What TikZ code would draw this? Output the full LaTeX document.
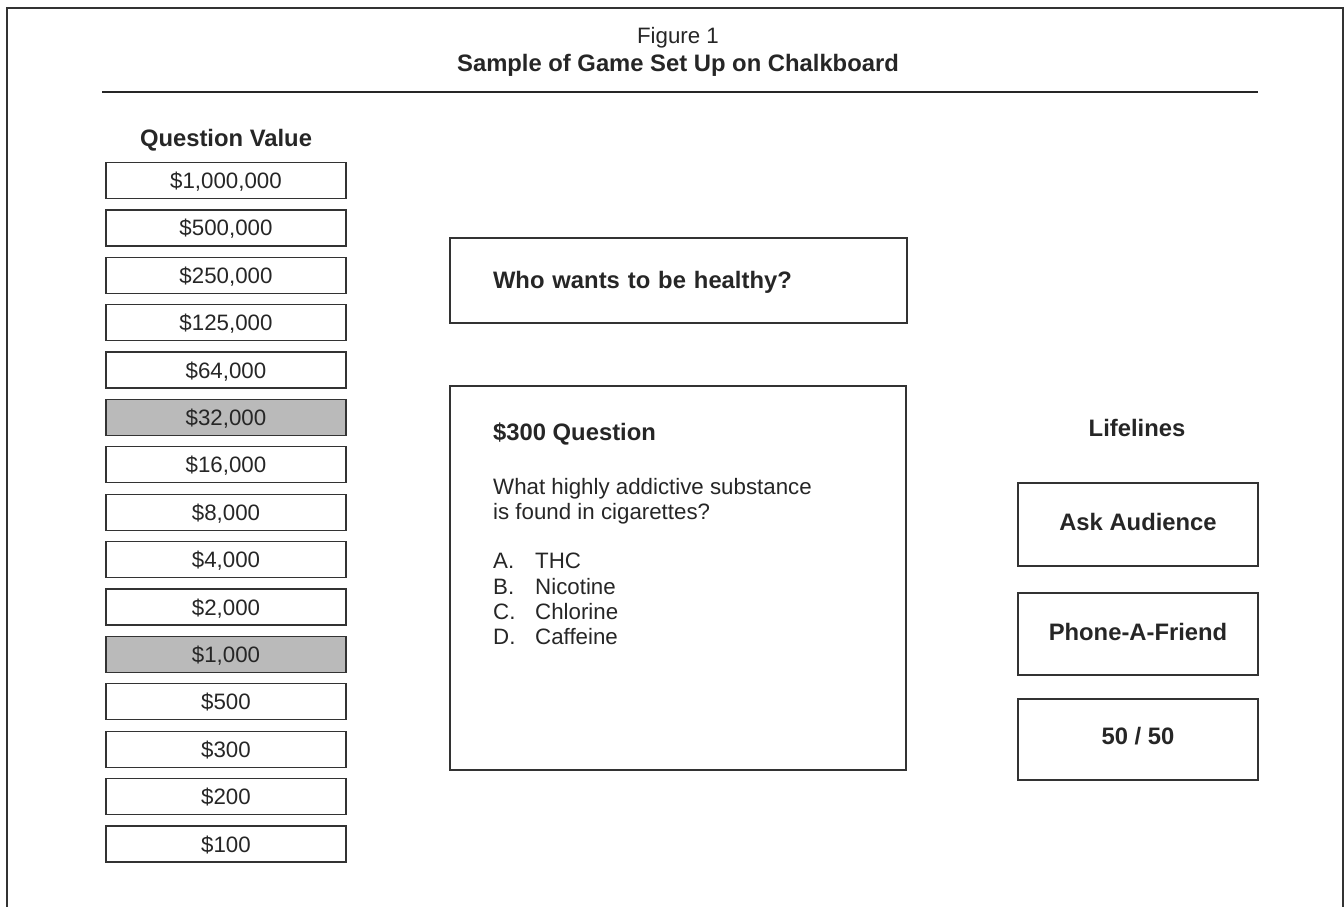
\documentclass[tikz,border=0pt]{standalone}
\usepackage{fontspec}
\setmainfont{Liberation Sans}
\begin{document}
\begin{tikzpicture}[x=1pt,y=-1pt,
  every node/.style={font=\fontsize{22.3}{26}\selectfont, text=black!85, inner sep=0pt, text height=16pt, text depth=0pt},
  ln/.style={draw=black!80, line width=1.3pt},
  valbox/.style={ln, minimum width=240pt, minimum height=36pt},
  hival/.style={valbox, fill=black!27},
  lifebox/.style={ln, minimum width=240pt, minimum height=83pt, font=\fontsize{23.8}{28}\selectfont\bfseries},
  hd/.style={font=\fontsize{23.8}{28}\selectfont\bfseries},
  txt/.style={anchor=base west, text height=, text depth=}
]
\useasboundingbox (0,0) rectangle (1344,907);
% outer frame
\coordinate (fbl) at (7,910);
\coordinate (ftl) at (7,8);
\coordinate (ftr) at (1343,8);
\coordinate (fbr) at (1343,910);
\draw[draw=black!80, line width=2pt] (fbl) -- (ftl) -- (ftr) -- (fbr);
% titles
\node (fig) at (678,36) {Figure 1};
\node[hd] (title) at (678,63) {Sample of Game Set Up on Chalkboard};
\coordinate (rl) at (102,92);
\coordinate (rr) at (1258,92);
\draw[draw=black!85, line width=2.6pt] (rl) -- (rr);
% question values
\node[hd] (qv) at (226,138) {Question Value};
\node[valbox] (v1) at (226,180.5) {\$1,000,000};
\node[valbox] (v2) at (226,227.9) {\$500,000};
\node[valbox] (v3) at (226,275.3) {\$250,000};
\node[valbox] (v4) at (226,322.6) {\$125,000};
\node[valbox] (v5) at (226,370.0) {\$64,000};
\node[hival] (v6) at (226,417.4) {\$32,000};
\node[valbox] (v7) at (226,464.8) {\$16,000};
\node[valbox] (v8) at (226,512.2) {\$8,000};
\node[valbox] (v9) at (226,559.6) {\$4,000};
\node[valbox] (v10) at (226,607.0) {\$2,000};
\node[hival] (v11) at (226,654.4) {\$1,000};
\node[valbox] (v12) at (226,701.8) {\$500};
\node[valbox] (v13) at (226,749.2) {\$300};
\node[valbox] (v14) at (226,796.6) {\$200};
\node[valbox] (v15) at (226,844.0) {\$100};
% who wants box
\node[ln, hd, minimum width=457pt, minimum height=85pt, text width=371pt, inner xsep=43pt, align=left] (who) at (678.5,280.5) {Who wants to be healthy?};
% question box
\node[ln, minimum width=456pt, minimum height=384pt] (qbox) at (678,578) {};
\node[txt, font=\fontsize{23.8}{28}\selectfont\bfseries] (qh) at (493,440) {\$300 Question};
\node[txt] (q1) at (493,494.5) {What highly addictive substance};
\node[txt] (q2) at (493,519.5) {is found in cigarettes?};
\node[txt] (la) at (493,568.5) {A.};
\node[txt] (ta) at (535,568.5) {THC};
\node[txt] (lb) at (493,594) {B.};
\node[txt] (tb) at (535,594) {Nicotine};
\node[txt] (lc) at (493,619.5) {C.};
\node[txt] (tc) at (535,619.5) {Chlorine};
\node[txt] (ld) at (493,644.5) {D.};
\node[txt] (td) at (535,644.5) {Caffeine};
% lifelines
\node[hd] (lif) at (1137,428) {Lifelines};
\node[lifebox] (ask) at (1138,524.5) {\raisebox{2pt}{Ask Audience}};
\node[lifebox, minimum height=82pt] (phone) at (1138,634) {\raisebox{2pt}{Phone-A-Friend}};
\node[lifebox, minimum height=81pt] (ff) at (1138,739.5) {\raisebox{3pt}{50 / 50}};
\end{tikzpicture}
\end{document}
